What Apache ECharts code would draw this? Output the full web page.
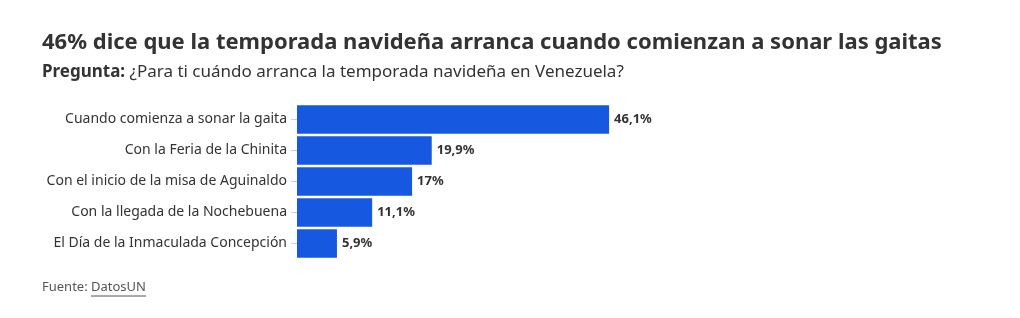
<!DOCTYPE html>
<html>
<head>
<meta charset="utf-8">
<script src="https://cdn.jsdelivr.net/npm/echarts@6/dist/echarts.min.js"></script>
<style>
  html, body { margin: 0; padding: 0; background: #fff; }
  #chart { width: 1020px; height: 318px; }
</style>
</head>
<body>
<div id="chart"></div>
<script>
'use strict';

/* ── Data ── */
const categories = [
  'Cuando comienza a sonar la gaita',
  'Con la Feria de la Chinita',
  'Con el inicio de la misa de Aguinaldo',
  'Con la llegada de la Nochebuena',
  'El Día de la Inmaculada Concepción'
];
const values = [46.1, 19.9, 17, 11.1, 5.9];
const valueLabels = ['46,1%', '19,9%', '17%', '11,1%', '5,9%'];

const FONT = "'Noto Sans', 'Open Sans', sans-serif";
const BAR = '#1659e0';

const chart = echarts.init(document.getElementById('chart'), null, { renderer: 'canvas' });

chart.setOption({
  backgroundColor: '#fff',
  animation: false,
  textStyle: { fontFamily: FONT },
  title: [
    {
      text: '46% dice que la temporada navideña arranca cuando comienzan a sonar las gaitas',
      left: 37, top: 27,
      textStyle: { fontFamily: FONT, fontSize: 22, fontWeight: 'bold', color: '#333' }
    },
    {
      text: '{b|Pregunta:} ¿Para ti cuándo arranca la temporada navideña en Venezuela?',
      left: 37, top: 59,
      textStyle: {
        fontFamily: FONT, fontSize: 17, fontWeight: 'normal', color: '#333',
        rich: { b: { fontFamily: FONT, fontSize: 17, fontWeight: 'bold', color: '#333' } }
      }
    }
  ],
  graphic: [
    {
      type: 'text',
      left: 42, top: 281,
      style: { text: 'Fuente:', fill: '#555', font: "13px 'Noto Sans', sans-serif" }
    },
    {
      type: 'text',
      left: 91, top: 281,
      style: { text: 'DatosUN', fill: '#555', font: "13px 'Noto Sans', sans-serif" }
    },
    {
      type: 'line',
      shape: { x1: 91, y1: 296, x2: 146, y2: 296 },
      style: { stroke: '#555', lineWidth: 1 }
    }
  ],
  grid: { top: 104, bottom: 59, left: 297, right: 46 },
  xAxis: {
    type: 'value',
    min: 0, max: 100,
    show: false
  },
  yAxis: {
    type: 'category',
    data: categories,
    inverse: true,
    axisLine: { show: false },
    axisTick: { show: true, alignWithLabel: true, length: 6, lineStyle: { color: '#d0d0d0' } },
    axisLabel: { color: '#333', fontSize: 14, fontFamily: FONT, margin: 10 },
    splitLine: { show: false }
  },
  series: [{
    type: 'bar',
    data: values,
    barCategoryGap: '8%',
    itemStyle: { color: BAR },
    label: {
      show: true,
      position: 'right',
      distance: 5,
      color: '#333',
      fontSize: 13,
      fontWeight: 'bold',
      fontFamily: FONT,
      formatter: p => valueLabels[p.dataIndex]
    }
  }]
});
</script>
</body>
</html>
